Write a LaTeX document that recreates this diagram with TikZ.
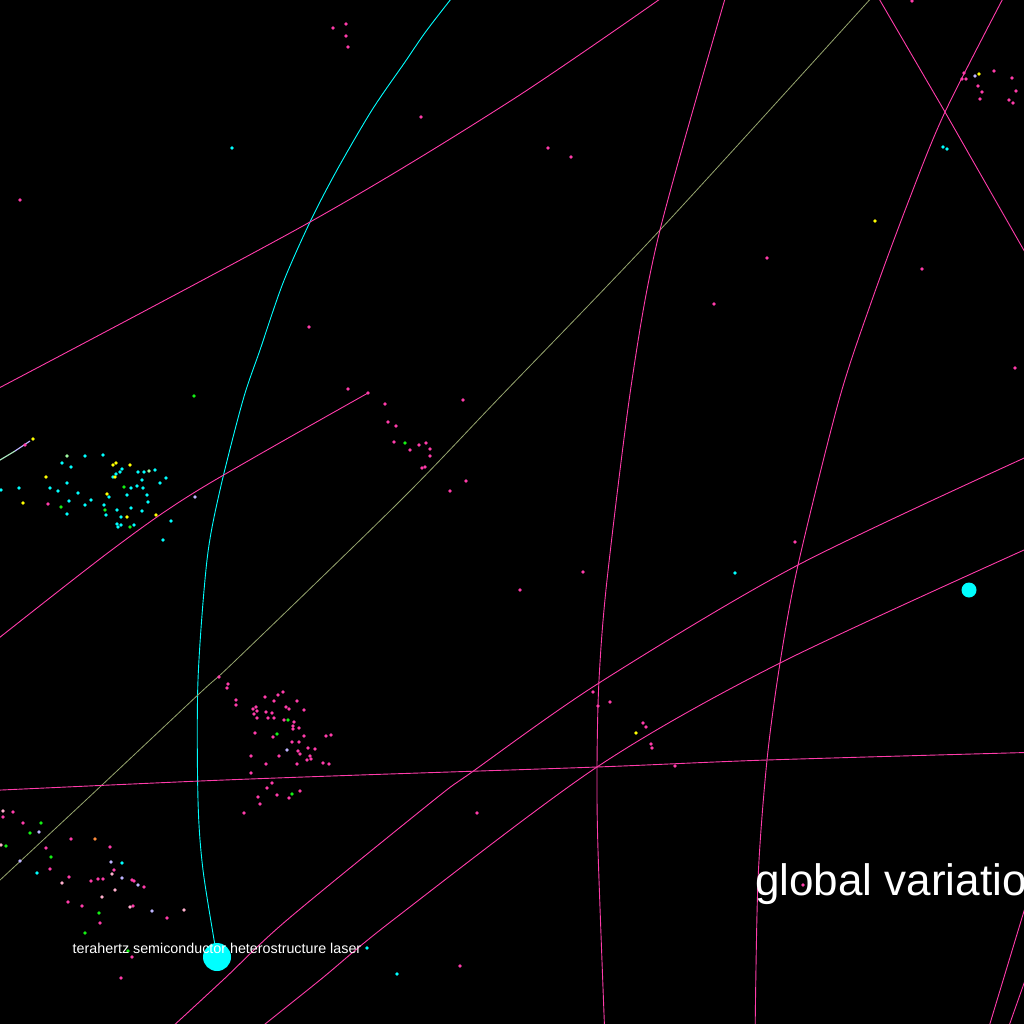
\documentclass[tikz,border=0pt]{standalone}
\usepackage{fontspec}
\setmainfont{Liberation Sans}
\usetikzlibrary{positioning}
\definecolor{vpink}{RGB}{255,60,170}
\definecolor{vcyan}{RGB}{0,255,255}
\definecolor{vyellow}{RGB}{255,255,0}
\definecolor{vgreen}{RGB}{20,240,20}
\definecolor{vlav}{RGB}{190,180,255}
\definecolor{vlpink}{RGB}{255,175,205}
\definecolor{vorange}{RGB}{255,140,60}
\definecolor{vlgreen}{RGB}{160,250,160}
\definecolor{volive}{RGB}{150,165,110}

\begin{document}
\begin{tikzpicture}[x=1pt, y=-1pt]
        \tikzstyle{dot} = [circle, inner sep=0pt, minimum size=3.7pt]
        \tikzstyle{link} = [draw=vpink, line width=0.9pt]
        \tikzstyle{label} = [text=white, inner sep=0pt]

        \fill[black] (0,0) rectangle (1024,1024);
        \useasboundingbox (0,0) rectangle (1024,1024);
        \clip (0,0) rectangle (1024,1024);

        % free ends of the links
        \coordinate (cyanTop) at (462,-15);
        \coordinate (aW) at (-20,398);  \coordinate (aE) at (680,-15);
        \coordinate (bN) at (729,-15);  \coordinate (bS) at (605,1040);
        \coordinate (cN) at (871,-15);  \coordinate (cS) at (1034,268);
        \coordinate (dN) at (1010,-15); \coordinate (dS) at (755,1040);
        \coordinate (eS) at (158,1040); \coordinate (eE) at (1044,449);
        \coordinate (fS) at (245,1040); \coordinate (fE) at (1044,541);
        \coordinate (gW) at (-20,791);  \coordinate (gE) at (1044,752);
        \coordinate (hW) at (-20,653);
        \coordinate (oW) at (-15,894);  \coordinate (oE) at (883,-15);
        \coordinate (pW) at (1034,878); \coordinate (pS) at (985,1040);
        \coordinate (qW) at (1034,955); \coordinate (qS) at (1004,1040);

        \node [dot, fill=vpink] (hEnd) at (368,393) {};
        \node [circle, fill=vcyan, minimum size=28pt, inner sep=0pt] (laserdot) at (217,957) {};
        \node [circle, fill=vcyan, minimum size=15pt, inner sep=0pt] (cyandot) at (969,590) {};

        % links
        \draw [draw=vcyan, line width=0.9pt] plot[smooth] coordinates {(cyanTop) (427,30) (405,62) (372,110) (337,170) (310,222) (283,283) (260,350) (243,400) (220,490) (207,560) (198,680) (198,800) (203,870) (laserdot)};
        \draw [draw=volive, line width=0.8pt] plot[smooth] coordinates {(oW) (86,800) (200,693) (236,660) (401,500) (500,397) (660,230) (oE)};
        \draw [link] plot[smooth] coordinates {(aW) (310,222) (512,100) (aE)};
        \draw [link] plot[smooth] coordinates {(bN) (660,230) (632,380) (607,580) (599,680) (597,767) (598,850) (bS)};
        \draw [link] (cN) -- (945,112) -- (cS);
        \draw [link] plot[smooth] coordinates {(dN) (945,112) (909,200) (872,300) (839,400) (798,565) (780,663) (767,760) (758,880) (dS)};
        \draw [link] plot[smooth] coordinates {(eS) (223,980) (287,920) (434,800) (472,772) (599,683) (798,565) (eE)};
        \draw [link] plot[smooth] coordinates {(fS) (320,980) (393,920) (597,767) (780,663) (fE)};
        \draw [link] plot[smooth] coordinates {(gW) (200,781) (360,775) (597,767) (767,760) (gE)};
        \draw [link] plot[smooth] coordinates {(hEnd) (200,489) (113,549) (hW)};
        \draw [link] (pW) -- (pS);
        \draw [link] (qW) -- (qS);
        \draw [draw=vlgreen!70!vlav, line width=1.2pt] (-5,463) -- (15,451);
        \draw [draw=vlav, line width=1.2pt] (15,451) -- (30,441);

        % items
        \foreach \p [count=\i] in {(333,28),(346,24),(346,36),(348,47),(421,117),(20,200),(309,327),(348,389),(463,400),(912,1),(548,148),(571,157),(767,258),(922,269),(714,304),(1015,368),(964,73),(966,79),(962,79),(994,71),(1012,78),(978,86),(982,92),(980,99),(1009,100),(1013,103),(1016,91),(385,404),(388,422),(396,426),(394,442),(410,450),(419,445),(426,443),(430,449),(430,456),(422,468),(425,467),(466,481),(450,491),(25,445),(48,504),(583,572),(520,590),(795,542),(593,692),(598,706),(610,702),(643,723),(646,727),(651,744),(652,748),(675,766),(803,885),(477,813),(460,966),(219,677),(228,684),(227,688),(283,692),(278,695),(265,697),(236,700),(274,701),(297,701),(236,705),(256,707),(253,709),(257,711),(254,714),(286,707),(289,709),(304,710),(266,712),(272,713),(268,718),(257,718),(274,718),(284,720),(294,722),(293,726),(293,729),(299,728),(255,733),(273,737),(304,736),(292,742),(299,742),(331,735),(326,736),(298,751),(308,748),(315,749),(300,754),(310,756),(311,759),(307,760),(251,756),(279,756),(266,764),(297,764),(323,763),(329,764),(251,773),(272,783),(267,788),(258,797),(277,795),(300,791),(289,798),(260,804),(244,813),(3,817),(13,812),(23,823),(71,839),(46,848),(110,847),(50,869),(114,870),(69,877),(91,881),(98,879),(103,879),(132,880),(134,881),(144,887),(68,902),(82,906),(133,906),(167,918),(100,923),(132,957),(121,978)}
            \node [dot, fill=vpink] (pk\i) at \p {};
        \foreach \p [count=\i] in {(3,811),(1,845),(112,874),(62,883),(115,890),(102,897),(130,907),(184,910)}
            \node [dot, fill=vlpink] (lp\i) at \p {};
        \foreach \p [count=\i] in {(39,832),(20,861),(111,862),(122,878),(138,885),(152,911),(195,497),(975,76),(287,750)}
            \node [dot, fill=vlav] (lv\i) at \p {};
        \foreach \p [count=\i] in {(41,823),(30,833),(6,846),(51,857),(99,913),(85,933),(128,951),(194,396),(405,443),(288,720),(277,734),(292,794),(124,487),(61,507),(105,510),(130,527)}
            \node [dot, fill=vgreen] (gr\i) at \p {};
        \foreach \p [count=\i] in {(37,873),(122,863),(367,948),(397,974),(232,148),(735,573),(943,147),(947,149),(85,456),(103,455),(62,463),(71,467),(122,469),(120,472),(116,474),(113,477),(138,472),(144,472),(155,470),(142,480),(166,478),(160,483),(67,483),(50,488),(58,491),(78,493),(19,488),(1,490),(131,488),(137,486),(143,488),(127,495),(147,495),(109,497),(91,500),(69,501),(148,502),(104,505),(85,505),(67,514),(117,510),(131,508),(106,515),(142,511),(121,517),(117,524),(121,525),(118,527),(134,525),(171,521),(163,540)}
            \node [dot, fill=vcyan] (cy\i) at \p {};
        \foreach \p [count=\i] in {(33,439),(113,465),(116,463),(130,465),(115,477),(46,477),(107,494),(23,503),(127,517),(156,515),(979,74),(875,221),(636,733)}
            \node [dot, fill=vyellow] (ye\i) at \p {};
        \node [dot, fill=vorange] (or1) at (95,839) {};
        \node [dot, fill=vlgreen] (lg1) at (67,456) {};
        \node [dot, fill=vlgreen] (lg2) at (149,471) {};

        % labels
        \node [label, anchor=base, font=\fontsize{14.3}{16}\selectfont] (laserlabel) at (217,953) {terahertz semiconductor heterostructure laser};
        \node [label, anchor=base west, font=\fontsize{44}{50}\selectfont] (globallabel) at (755,895) {global variation};
    \end{tikzpicture}
\end{document}
